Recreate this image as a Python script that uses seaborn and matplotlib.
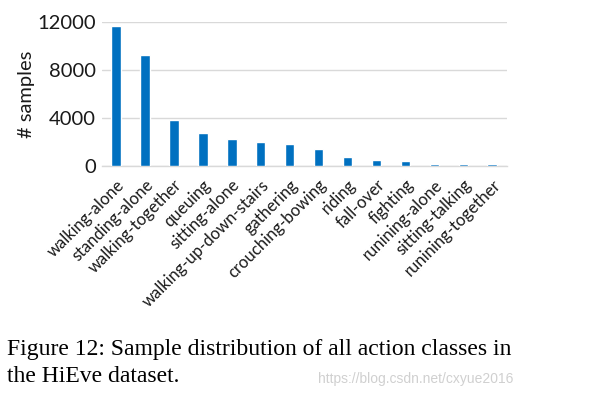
import matplotlib
matplotlib.use("Agg")
import matplotlib.pyplot as plt
import seaborn as sns
import pandas as pd

# action classes of the HiEve dataset and their sample counts
classes = ["walking-alone", "standing-alone", "walking-together", "queuing",
           "sitting-alone", "walking-up-down-stairs", "gathering", "crouching-bowing",
           "riding", "fall-over", "fighting", "runining-alone", "sitting-talking",
           "runining-together"]
samples = [11700, 9300, 3800, 2700, 2250, 2000, 1850, 1400, 750, 450, 350, 170, 150, 120]
y_ticks = [0, 4000, 8000, 12000]

caption_lines = ["Figure 12: Sample distribution of all action classes in",
                 "the HiEve dataset."]
watermark = "https://blog.csdn.net/cxyue2016"

sns.set_style("white")
plt.rcParams["font.family"] = ["Lato", "DejaVu Sans"]

df = pd.DataFrame({"action": classes, "samples": samples})

fig = plt.figure(figsize=(5.94, 3.99), dpi=100)
ax = fig.add_axes([0.171, 0.585, 0.682, 0.359])

sns.barplot(data=df, x="action", y="samples", color="#0070C0", saturation=1,
            width=0.33, ax=ax, zorder=3)

ax.set_xlim(-0.5, len(classes) - 0.5)
ax.set_ylim(0, 12000)
ax.set_yticks(y_ticks)
ax.set_yticklabels([str(t) for t in y_ticks], fontsize=14.5, color="#1a1a1a")
ax.yaxis.grid(True, color="#D9D9D9", linewidth=1, zorder=0)
ax.set_axisbelow(True)
for side in ["left", "right", "top"]:
    ax.spines[side].set_visible(False)
ax.spines["bottom"].set_color("#D9D9D9")
ax.spines["bottom"].set_linewidth(1)
ax.tick_params(axis="both", length=0)
ax.tick_params(axis="y", pad=4)
ax.tick_params(axis="x", pad=8)

ax.set_xticks(range(len(classes)))
ax.set_xticklabels(classes, rotation=45, ha="right", rotation_mode="anchor",
                   fontsize=12, color="#1a1a1a")
ax.set_xlabel("")
ax.set_ylabel("# samples", fontsize=14.5, color="#1a1a1a", labelpad=2)

serif = ["Liberation Serif", "DejaVu Serif"]
fig.text(0.012, 0.110, caption_lines[0], fontsize=17, family=serif,
         color="black", va="baseline", ha="left")
fig.text(0.012, 0.043, caption_lines[1], fontsize=17, family=serif,
         color="black", va="baseline", ha="left")
fig.text(0.864, 0.040, watermark, fontsize=10, color="#d0d0d0",
         ha="right", va="baseline", family=["Liberation Sans", "DejaVu Sans"])

fig.savefig("out.png", dpi=100)
